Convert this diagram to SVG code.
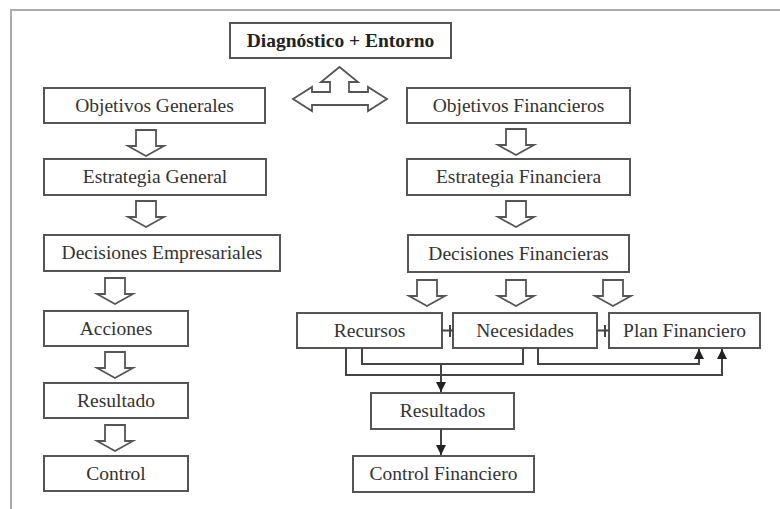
<svg xmlns="http://www.w3.org/2000/svg" width="780" height="509" viewBox="0 0 780 509">
  <style>
    .box { fill: #fff; stroke: #555; stroke-width: 2; }
    .lbl { font-family: "Liberation Serif", "Times New Roman", serif; font-size: 19.5px; fill: #333; text-anchor: middle; }
    .bold { font-weight: bold; fill: #222; }
    .blk { fill: #fff; stroke: #555; stroke-width: 1.8; stroke-linejoin: miter; }
    .wire { fill: none; stroke: #444; stroke-width: 2; }
    .frame { fill: none; stroke: #aaa; stroke-width: 2; }
  </style>
  <defs>
    <!-- hollow block arrow pointing down, origin at top centre -->
    <path id="down" d="M-10,0 H10 V16 H18 L0,26 L-18,16 H-10 Z"/>
    <marker id="tip" viewBox="0 0 10 10" refX="10" refY="5" markerWidth="10" markerHeight="10" markerUnits="userSpaceOnUse" orient="auto">
      <path d="M0,0 L10,5 L0,10 Z" fill="#222"/>
    </marker>
  </defs>

  <rect width="780" height="509" fill="#fff"/>
  <!-- page frame -->
  <path class="frame" d="M11,509 V10 H780"/>

  <g id="diagnostico">
    <rect class="box" x="230" y="23" width="221" height="35"/>
    <text class="lbl bold" x="340.5" y="46.5">Diagnóstico + Entorno</text>
  </g>

  <!-- left column -->
  <g id="objetivos-generales">
    <rect class="box" x="44" y="88" width="221" height="35"/>
    <text class="lbl" x="154.5" y="111.5">Objetivos Generales</text>
  </g>
  <g id="estrategia-general">
    <rect class="box" x="44" y="159" width="222" height="36"/>
    <text class="lbl" x="155" y="183">Estrategia General</text>
  </g>
  <g id="decisiones-empresariales">
    <rect class="box" x="44" y="235" width="236" height="36"/>
    <text class="lbl" x="162" y="259">Decisiones Empresariales</text>
  </g>
  <g id="acciones">
    <rect class="box" x="44" y="311" width="144" height="35"/>
    <text class="lbl" x="116" y="334.5">Acciones</text>
  </g>
  <g id="resultado">
    <rect class="box" x="44" y="383" width="144" height="35"/>
    <text class="lbl" x="116" y="406.5">Resultado</text>
  </g>
  <g id="control">
    <rect class="box" x="44" y="456" width="144" height="35"/>
    <text class="lbl" x="116" y="479.5">Control</text>
  </g>

  <!-- right column -->
  <g id="objetivos-financieros">
    <rect class="box" x="407" y="88" width="223" height="35"/>
    <text class="lbl" x="518.5" y="111.5">Objetivos Financieros</text>
  </g>
  <g id="estrategia-financiera">
    <rect class="box" x="407" y="159" width="223" height="36"/>
    <text class="lbl" x="518.5" y="183">Estrategia Financiera</text>
  </g>
  <g id="decisiones-financieras">
    <rect class="box" x="408" y="235" width="221" height="37"/>
    <text class="lbl" x="518.5" y="259.5">Decisiones Financieras</text>
  </g>
  <g id="recursos">
    <rect class="box" x="297" y="313" width="145" height="35"/>
    <text class="lbl" x="369.5" y="336.5">Recursos</text>
  </g>
  <g id="necesidades">
    <rect class="box" x="453" y="313" width="144" height="35"/>
    <text class="lbl" x="525" y="336.5">Necesidades</text>
  </g>
  <g id="plan-financiero">
    <rect class="box" x="609" y="313" width="151" height="35"/>
    <text class="lbl" x="684.5" y="336.5">Plan Financiero</text>
  </g>
  <g id="resultados">
    <rect class="box" x="371" y="393" width="143" height="36"/>
    <text class="lbl" x="442.5" y="417">Resultados</text>
  </g>
  <g id="control-financiero">
    <rect class="box" x="353" y="456" width="181" height="36"/>
    <text class="lbl" x="443.5" y="480">Control Financiero</text>
  </g>

  <g id="connectors">
    <!-- three-way block arrow under the diagnosis box -->
    <path class="blk" d="M293,99 L312,87 V92 H330 V82 H321 L339.5,67 L358,82 H349 V92 H368 V87 L387,99 L368,111 V105 H312 V111 Z"/>

    <!-- block arrows, left column -->
    <use href="#down" class="blk" transform="translate(146,130)"/>
    <use href="#down" class="blk" transform="translate(146,201)"/>
    <use href="#down" class="blk" transform="translate(115,278)"/>
    <use href="#down" class="blk" transform="translate(115,352)"/>
    <use href="#down" class="blk" transform="translate(115,425)"/>

    <!-- block arrows, right column -->
    <use href="#down" class="blk" transform="translate(516,129)"/>
    <use href="#down" class="blk" transform="translate(516,201)"/>
    <use href="#down" class="blk" transform="translate(427,280)"/>
    <use href="#down" class="blk" transform="translate(516,280)"/>
    <use href="#down" class="blk" transform="translate(613,280)"/>

    <!-- links between the three resource boxes -->
    <path class="wire" d="M442,330.5 H453 M450,325 V337"/>
    <path class="wire" d="M597,330.5 H609 M605,325 V337"/>

    <!-- loops under the resource boxes -->
    <path class="wire" d="M346,348 V375 H722 V349" marker-end="url(#tip)"/>
    <path class="wire" d="M362,348 V364 H523 V348"/>
    <path class="wire" d="M538,348 V364 H699 V349" marker-end="url(#tip)"/>

    <!-- into Resultados and on to Control Financiero -->
    <path class="wire" d="M441,364 V392" marker-end="url(#tip)"/>
    <path class="wire" d="M441,429 V455" marker-end="url(#tip)"/>
  </g>
</svg>
